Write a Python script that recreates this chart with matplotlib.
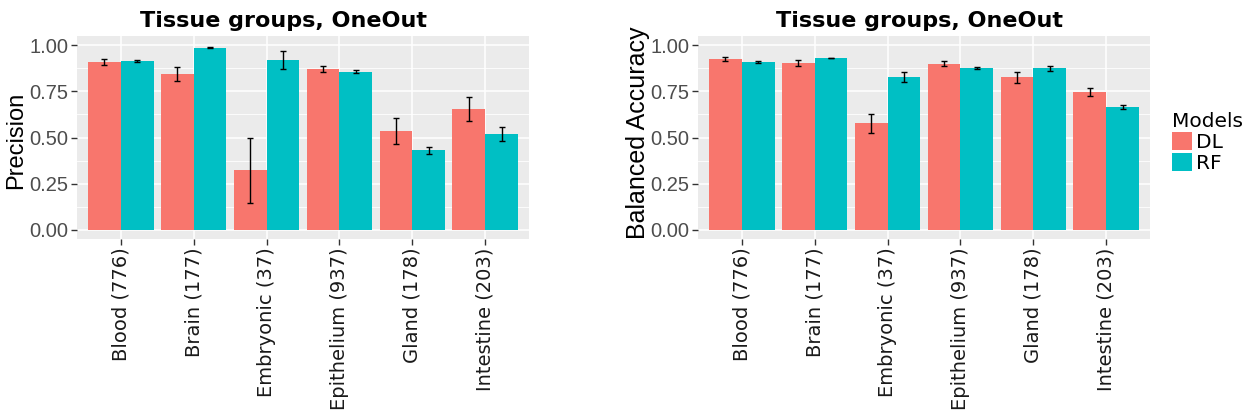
import matplotlib
matplotlib.use("Agg")
import matplotlib.pyplot as plt
import numpy as np

GROUPS = ["Blood (776)", "Brain (177)", "Embryonic (37)", "Epithelium (937)",
          "Gland (178)", "Intestine (203)"]
MODELS = ["DL", "RF"]
COLORS = {"DL": "#F8766D", "RF": "#00BFC4"}

# precision, mean and error half-width per group
prec_dl = [0.909, 0.844, 0.322, 0.871, 0.534, 0.654]
prec_dl_err = [0.018, 0.040, 0.175, 0.018, 0.071, 0.067]
prec_rf = [0.915, 0.986, 0.920, 0.857, 0.431, 0.518]
prec_rf_err = [0.007, 0.002, 0.050, 0.010, 0.019, 0.039]

# balanced accuracy
bacc_dl = [0.926, 0.904, 0.578, 0.899, 0.826, 0.746]
bacc_dl_err = [0.012, 0.016, 0.052, 0.013, 0.030, 0.020]
bacc_rf = [0.909, 0.931, 0.828, 0.877, 0.875, 0.664]
bacc_rf_err = [0.007, 0.002, 0.027, 0.006, 0.012, 0.012]

YTICKS = [0.0, 0.25, 0.5, 0.75, 1.0]
TITLE = "Tissue groups, OneOut"

W, H = 1246, 418


def panel(ax, dl, dl_err, rf, rf_err, ylabel, ylabel_size, label_xy):
    x = np.arange(len(GROUPS))
    width = 0.45
    ax.set_facecolor("#EBEBEB")
    handles = []
    for off, model, vals, errs in [(-width / 2, "DL", dl, dl_err),
                                   (width / 2, "RF", rf, rf_err)]:
        b = ax.bar(x + off, vals, width=width, color=COLORS[model], zorder=2,
                   label=model)
        ax.errorbar(x + off, vals, yerr=errs, fmt="none", ecolor="black",
                    elinewidth=1.0, capsize=2.2, capthick=1.0, zorder=3)
        handles.append(b)

    ax.set_xlim(-0.6, len(GROUPS) - 0.4)
    ax.set_ylim(-0.05, 1.05)
    ax.set_yticks(YTICKS)
    ax.set_yticks([0.125, 0.375, 0.625, 0.875], minor=True)
    ax.set_yticklabels([f"{v:.2f}" for v in YTICKS], family="Liberation Sans",
                       fontsize=14.5, color="#4D4D4D")
    ax.set_xticks(x)
    ax.set_xticklabels(GROUPS, rotation=90, family="DejaVu Sans",
                       fontsize=14, color="#1A1A1A")
    ax.tick_params(axis="both", which="major", length=4, width=1,
                   color="#333333", pad=2)
    ax.tick_params(axis="y", which="minor", length=0)

    ax.grid(which="major", color="white", linewidth=1.1, zorder=0)
    ax.grid(which="minor", axis="y", color="white", linewidth=0.6, zorder=0)
    ax.set_axisbelow(True)
    for s in ax.spines.values():
        s.set_visible(False)

    ax.set_ylabel(ylabel, family="Liberation Sans", fontsize=ylabel_size,
                  color="black")
    ax.yaxis.set_label_coords(*label_xy)
    return handles


fig = plt.figure(figsize=(W / 100, H / 100), dpi=100)
ax1 = fig.add_axes([77 / W, 1 - 239 / H, 452 / W, 203 / H])
ax2 = fig.add_axes([698 / W, 1 - 239 / H, 452 / W, 203 / H])

panel(ax1, prec_dl, prec_dl_err, prec_rf, prec_rf_err, "Precision", 17,
      (-0.111, 0.488))
handles = panel(ax2, bacc_dl, bacc_dl_err, bacc_rf, bacc_rf_err,
                "Balanced Accuracy", 18, (-0.106, 0.525))

for xc in (283, 920):
    fig.text(xc / W, 1 - 27 / H, TITLE, ha="center", va="baseline",
             fontsize=16, fontweight="bold", family="DejaVu Sans")

leg = fig.legend(handles, MODELS, loc="upper left",
                 bbox_to_anchor=(1158 / W, 1 - 98 / H), frameon=False,
                 title="Models", fontsize=14.5, title_fontsize=14.5,
                 handlelength=1.0, handleheight=1.0, labelspacing=0.05,
                 handletextpad=0.2, borderpad=0.2)
leg._legend_box.align = "left"

fig.savefig("out.png", dpi=100)
